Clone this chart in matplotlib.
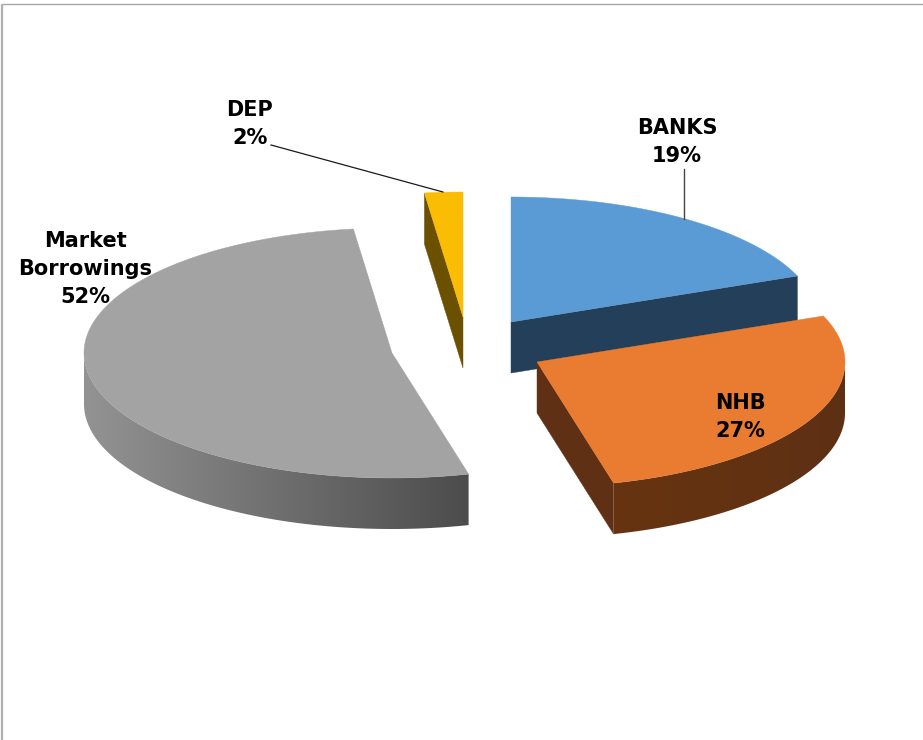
import numpy as np
import matplotlib
matplotlib.use("Agg")
import matplotlib.pyplot as plt
from matplotlib.colors import LinearSegmentedColormap
from matplotlib.patches import Polygon

# Funding mix, in percent, clockwise from twelve o'clock
categories = ["BANKS", "NHB", "Market\nBorrowings", "DEP"]
shares = [19, 27, 52, 2]
top_colors = ["#5b9bd5", "#ea7c31", "#a3a3a3", "#fbbc04"]
cut_colors = ["#243f5a", "#5f3014", "#a3a3a3", "#6b5000"]

# Wedge tips in pixels: each slice is pulled away from the common centre
tips = [(511, 322), (537, 362), (392, 353), (463, 317)]
RX, RY, DEPTH = 308, 125, 51

fig = plt.figure(figsize=(9.23, 7.4), dpi=100, facecolor="white")
ax = fig.add_axes([0, 0, 1, 1])
ax.axis("off")


def rim(tip, deg):
    """Point on the projected rim of a slice; deg runs clockwise from north."""
    a = np.radians(deg)
    return tip[0] + RX * np.sin(a), tip[1] - RY * np.cos(a)


def top_face(tip, start, end, color, z):
    xs, ys = rim(tip, np.linspace(start, end, 200))
    pts = np.vstack([[tip], np.column_stack([xs, ys])])
    ax.add_patch(Polygon(pts, closed=True, fc=color, ec=color, lw=0.3, zorder=z))


def cut_face(tip, deg, color, z):
    x, y = rim(tip, deg)
    pts = [tip, (x, y), (x, y + DEPTH), (tip[0], tip[1] + DEPTH)]
    ax.add_patch(Polygon(pts, closed=True, fc=color, ec=color, lw=0.3, zorder=z))


def outer_wall(tip, start, end, left_color, right_color, z):
    """Side wall with a horizontal gradient clipped to its outline."""
    xs, ys = rim(tip, np.linspace(start, end, 200))
    outline = np.vstack([np.column_stack([xs, ys]),
                         np.column_stack([xs, ys + DEPTH])[::-1]])
    clip = Polygon(outline, closed=True, fc="none", ec="none", transform=ax.transData)
    ax.add_patch(clip)
    cmap = LinearSegmentedColormap.from_list("wall", [left_color, right_color])
    ramp = np.linspace(0, 1, 256).reshape(1, -1)
    img = ax.imshow(ramp, cmap=cmap, aspect="auto", interpolation="bilinear", zorder=z,
                    extent=[xs.min(), xs.max(), ys.max() + DEPTH, ys.min()])
    img.set_clip_path(clip)


# Slice boundaries in degrees
edges = np.concatenate([[0], np.cumsum(shares)]) * 3.6
spans = list(zip(edges[:-1], edges[1:]))

# Market borrowings: wall facing the viewer, then the top
outer_wall(tips[2], spans[2][0], 270, "#939393", "#4c4c4c", 1)
top_face(tips[2], *spans[2], top_colors[2], 2)

# DEP: dark cut face on the left, then the top
cut_face(tips[3], spans[3][0], cut_colors[3], 1)
top_face(tips[3], *spans[3], top_colors[3], 2)

# Banks: cut face towards the viewer, then the top
cut_face(tips[0], spans[0][1], cut_colors[0], 3)
top_face(tips[0], *spans[0], top_colors[0], 4)

# NHB sits in front of the banks slice
cut_face(tips[1], spans[1][1], cut_colors[1], 5)
outer_wall(tips[1], 90, spans[1][1], "#673410", "#5e3014", 5)
top_face(tips[1], *spans[1], top_colors[1], 6)

# Leader lines
ax.plot([271, 443], [145, 192], color="#1a1a1a", lw=0.9, zorder=7)
ax.plot([684, 684], [169, 219], color="#444444", lw=1.0, zorder=7)

# Data labels
label_pos = [(677, 142), (740, 417), (85, 269), (250, 124)]
for name, share, (x, y) in zip(categories, shares, label_pos):
    ax.text(x, y, f"{name}\n{share}%", ha="center", va="center", ma="center",
            family="DejaVu Sans", weight="bold", fontsize=15, color="black",
            linespacing=1.48, zorder=8)

# Thin frame along the top and left
ax.plot([2, 923], [4, 4], color="#a6a6a6", lw=1.0, zorder=9, solid_capstyle="butt")
ax.plot([2, 2], [4, 740], color="#b0b0b0", lw=1.6, zorder=9, solid_capstyle="butt")

ax.set_xlim(0, 923)
ax.set_ylim(740, 0)
fig.savefig("out.png", dpi=100, facecolor="white")
